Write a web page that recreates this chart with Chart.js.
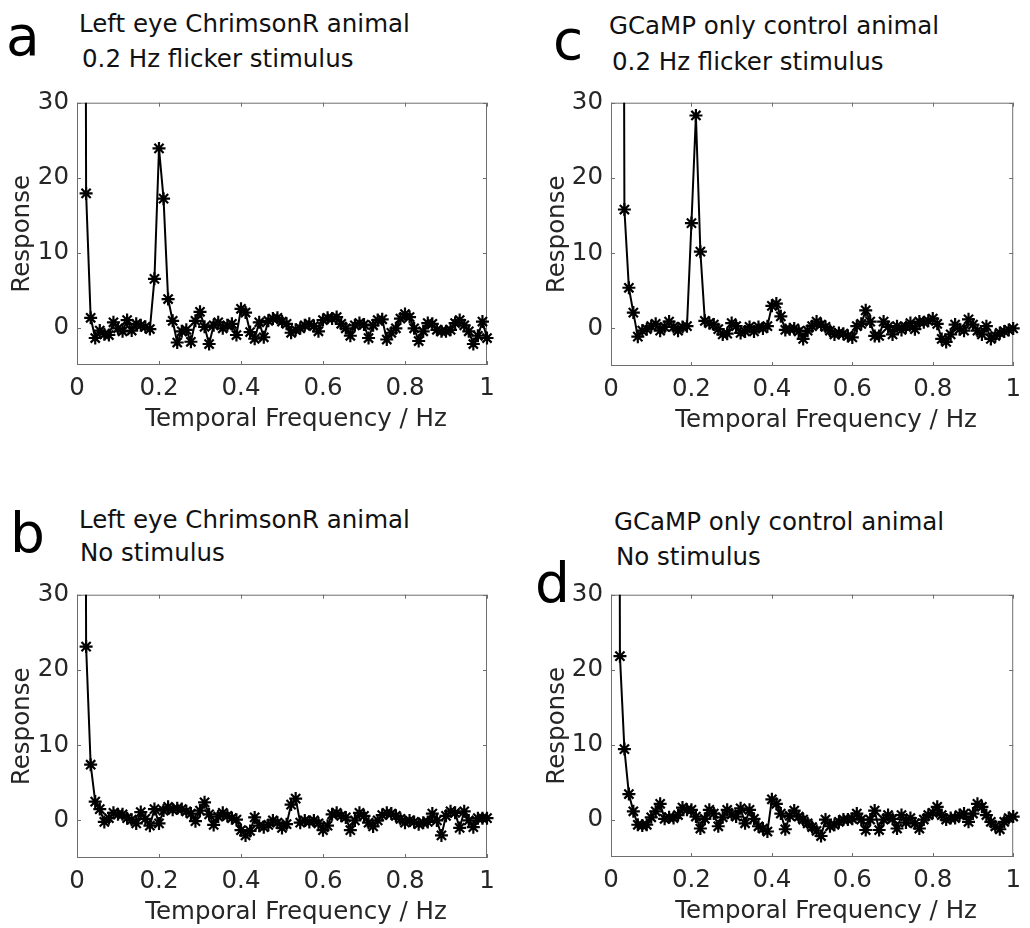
<!DOCTYPE html>
<html>
<head>
<meta charset="utf-8">
<script src="https://cdn.jsdelivr.net/npm/chart.js@4.4.1/dist/chart.umd.min.js"></script>
<style>
  html, body { margin: 0; padding: 0; background: #fff; width: 1030px; height: 928px; overflow: hidden; position: relative; font-family: "DejaVu Sans", sans-serif; }
  canvas { position: absolute; }
  .ttl { position: absolute; white-space: nowrap; color: #111; font-size: 24.5px; line-height: 1; }
  .let { position: absolute; color: #000; font-size: 55px; line-height: 1; }
</style>
</head>
<body>
<div class="let" style="left:6px;top:9px">a</div>
<div class="ttl" style="left:79px;top:12px">Left eye ChrimsonR animal</div>
<div class="ttl" style="left:82px;top:47px">0.2 Hz flicker stimulus</div>

<div class="let" style="left:553px;top:13px">c</div>
<div class="ttl" style="left:609px;top:14px">GCaMP only control animal</div>
<div class="ttl" style="left:612px;top:50px">0.2 Hz flicker stimulus</div>

<div class="let" style="left:10px;top:506px">b</div>
<div class="ttl" style="left:79px;top:508px">Left eye ChrimsonR animal</div>
<div class="ttl" style="left:80px;top:541px">No stimulus</div>

<div class="let" style="left:535px;top:556px">d</div>
<div class="ttl" style="left:614px;top:510px">GCaMP only control animal</div>
<div class="ttl" style="left:616px;top:545px">No stimulus</div>

<script>
  // frequency bins: 1/90 Hz apart, first bin at 1/90 Hz
  const FREQ_STEP = 1 / 90;
  const X_TICKS = [0, 0.2, 0.4, 0.6, 0.8, 1];
  const Y_TICKS = [0, 10, 20, 30];
  const X_LABEL = 'Temporal Frequency / Hz';
  const Y_LABEL = 'Response';

  // a - ChrimsonR, 0.2 Hz flicker
  const respA = [
    300, 17.9, 1.3, -1.4, -0.4, -0.9, -1.0, 0.7, -0.1, -0.5,
    1.0, -0.4, 0.5, 0.3, 0.1, -0.2, 6.5, 23.9, 17.2, 3.8,
    0.9, -2.0, -0.5, -0.3, -1.9, 0.9, 2.1, 0.1, -2.2, 0.3,
    0.7, -0.1, 0.3, 0.5, -1.0, 2.5, 2.0, -0.6, -1.5, 0.7,
    -1.3, 0.9, 1.2, 1.3, 0.8, 0.5, -0.7, -0.3, -0.1, 0.3,
    0.5, 0.2, -0.5, 1.0, 1.3, 1.2, 1.4, 0.5, -0.1, -1.1,
    0.3, 0.6, 0.4, -1.4, 0.3, 1.0, 1.1, -1.6, -0.7, -0.1,
    1.2, 1.8, 1.4, -0.1, -1.8, -0.5, 0.6, 0.5, -0.3, -0.5,
    -0.5, -0.3, 0.6, 1.0, 0.3, -0.5, -2.2, -1.1, 0.8, -1.4
  ];

  // c - GCaMP only, 0.2 Hz flicker
  const respC = [
    400, 250, 15.8, 5.4, 2.1, -1.1, -0.3, -0.1, 0.3, 0.6,
    -0.3, 0.2, 0.9, 0.2, -0.3, 0.2, 0.3, 14.0, 28.3, 10.2,
    1.0, 0.7, 0.5, -0.1, -0.8, -0.7, 0.7, 0.3, -0.6, -0.4,
    0.2, -0.4, 0.2, 0.0, 0.3, 3.0, 3.3, 1.6, -0.2, -0.1,
    0.0, -0.4, -1.4, -0.3, 0.3, 0.9, 0.5, 0.2, -0.3, -0.8,
    -0.6, -0.7, -1.0, -1.2, 0.3, 0.6, 2.4, 0.9, -1.0, -1.0,
    0.9, 0.2, -0.8, 0.3, -0.2, 0.2, 0.7, -0.1, 0.9, 0.8,
    1.0, 1.3, 0.6, -1.4, -1.8, -0.8, 0.5, -0.1, -0.3, 1.2,
    0.5, -0.3, -0.8, 0.3, -1.4, -1.0, -0.6, -0.4, -0.2, 0.0
  ];

  // b - ChrimsonR, no stimulus
  const respB = [
    300, 23.1, 7.4, 2.5, 1.5, -0.2, 0.3, 1.0, 0.8, 0.8,
    0.3, 0.1, -0.4, 1.1, 0.2, -0.7, 1.5, -0.4, 1.3, 1.8,
    1.4, 1.6, 1.5, 1.2, 0.9, -0.1, 1.3, 2.4, 0.8, -0.6,
    0.5, 1.0, 0.6, 0.3, 0.1, -1.3, -2.0, -1.4, 0.4, -0.7,
    -0.9, -0.6, 0.0, -0.3, -1.0, -0.5, 2.1, 2.9, -0.3, 0.0,
    -0.2, 0.0, -0.4, -1.3, -0.7, 0.8, 1.0, 0.6, 0.4, -1.3,
    0.0, 1.0, 0.6, -0.3, -0.8, 0.0, 0.7, 1.0, 0.9, 0.6,
    0.2, -0.3, 0.0, -0.2, -0.5, -0.3, -0.2, 0.9, 0.0, -2.0,
    0.6, 1.2, 1.0, -1.0, 1.2, 0.0, -0.9, 0.3, 0.3, 0.3
  ];

  // d - GCaMP only, no stimulus
  const respD = [
    300, 21.8, 9.4, 3.4, 1.1, -0.7, -0.8, -0.7, 0.3, 1.1,
    2.1, 0.1, 0.3, 0.2, 0.6, 1.6, 1.3, 1.3, 0.4, -1.2,
    0.1, 1.3, 0.8, -0.9, 0.3, 1.3, 0.7, 0.4, 1.5, -0.5,
    1.3, 0.1, -0.9, -1.2, -1.6, 2.7, 2.1, 0.8, -1.3, 0.5,
    1.2, 0.4, 0.0, -0.5, -1.0, -1.5, -2.2, 0.0, -0.9, -0.7,
    -0.3, 0.0, 0.0, 0.1, 0.8, 0.0, -1.4, 0.0, 1.2, -1.4,
    0.0, 0.6, 0.1, -1.2, 0.6, -0.4, 0.2, -0.5, -1.2, 0.0,
    0.6, 0.9, 1.7, 0.6, 0.0, 0.2, 0.2, 0.6, 0.8, -0.3,
    0.8, 2.1, 1.7, 0.6, -0.3, -0.9, -1.3, -0.3, 0.2, 0.4
  ];

  const PANELS = [
    { values: respA, box: { left: 0, top: 80, w: 515, h: 378 }, area: { x1: 77, y1: 93, x2: 487, y2: 365 }, yTitleX: 22 },
    { values: respC, box: { left: 515, top: 80, w: 515, h: 378 }, area: { x1: 611, y1: 94, x2: 1022, y2: 366 }, yTitleX: 42 },
    { values: respB, box: { left: 0, top: 572, w: 515, h: 378 }, area: { x1: 77, y1: 585, x2: 487, y2: 858 }, yTitleX: 22 },
    { values: respD, box: { left: 515, top: 572, w: 515, h: 378 }, area: { x1: 611, y1: 585, x2: 1022, y2: 857 }, yTitleX: 42 }
  ];

  const AXIS_FONT = { family: '"DejaVu Sans", sans-serif', size: 24.5 };
  const AXIS_COLOR = '#262626';

  // box round the axes + inward ticks, like matlab's
  const boxTicks = {
    id: 'boxTicks',
    beforeDatasetsDraw(chart) {
      const { ctx, chartArea: a, scales: { x, y } } = chart;
      ctx.save();
      ctx.strokeStyle = '#6e6e6e';
      ctx.lineWidth = 1;
      ctx.strokeRect(a.left + 0.5, a.top + 0.5, a.right - a.left - 1, a.bottom - a.top - 1);
      ctx.beginPath();
      X_TICKS.forEach(v => {
        const px = Math.round(x.getPixelForValue(v)) + 0.5;
        ctx.moveTo(px, a.bottom); ctx.lineTo(px, a.bottom - 4);
        ctx.moveTo(px, a.top); ctx.lineTo(px, a.top + 4);
      });
      Y_TICKS.forEach(v => {
        const py = Math.round(y.getPixelForValue(v)) + 0.5;
        ctx.moveTo(a.left, py); ctx.lineTo(a.left + 4, py);
        ctx.moveTo(a.right, py); ctx.lineTo(a.right - 4, py);
      });
      ctx.stroke();
      ctx.restore();
    },
    // x label sits a bit right of the axis centre in the original
    afterDraw(chart) {
      const { ctx, chartArea: a } = chart;
      ctx.save();
      ctx.font = `${AXIS_FONT.size}px ${AXIS_FONT.family}`;
      ctx.fillStyle = AXIS_COLOR;
      ctx.textAlign = 'center';
      ctx.textBaseline = 'middle';
      ctx.fillText(X_LABEL, (a.left + a.right) / 2 + 14, a.bottom + 55);
      ctx.restore();
    }
  };

  function makeChart(p) {
    const canvas = document.createElement('canvas');
    canvas.width = p.box.w;
    canvas.height = p.box.h;
    canvas.style.left = p.box.left + 'px';
    canvas.style.top = p.box.top + 'px';
    document.body.appendChild(canvas);

    const yAxisW = p.area.x1 - p.box.left;
    const xAxisH = p.box.top + p.box.h - p.area.y2;

    new Chart(canvas, {
      type: 'line',
      data: {
        datasets: [{
          data: p.values.map((v, i) => ({ x: (i + 1) * FREQ_STEP, y: v })),
          borderColor: '#000',
          borderWidth: 2,
          tension: 0,
          pointStyle: 'star',
          pointRadius: 6.5,
          pointBorderWidth: 2.2,
          pointBorderColor: '#000',
          pointBackgroundColor: '#000',
          clip: { left: 9, top: 0, right: 9, bottom: 9 }
        }]
      },
      options: {
        responsive: false,
        animation: false,
        devicePixelRatio: 1,
        layout: { padding: { left: 0, top: p.area.y1 - p.box.top, right: p.box.left + p.box.w - p.area.x2, bottom: 0 } },
        plugins: { legend: { display: false }, tooltip: { enabled: false } },
        scales: {
          x: {
            type: 'linear', min: 0, max: 1,
            afterBuildTicks: s => { s.ticks = X_TICKS.map(v => ({ value: v })); },
            afterFit: s => { s.height = xAxisH; },
            grid: { display: false, drawTicks: false },
            border: { display: false },
            ticks: { font: AXIS_FONT, color: AXIS_COLOR, padding: 9, maxRotation: 0, callback: v => String(v) }
          },
          y: {
            min: -5, max: 30,
            afterBuildTicks: s => { s.ticks = Y_TICKS.map(v => ({ value: v })); },
            afterFit: s => { s.width = yAxisW; },
            grid: { display: false, drawTicks: false },
            border: { display: false },
            ticks: { font: AXIS_FONT, color: AXIS_COLOR, padding: 8 },
            title: { display: true, text: Y_LABEL, font: AXIS_FONT, color: AXIS_COLOR, padding: { top: p.yTitleX - 14, bottom: 0 } }
          }
        }
      },
      plugins: [boxTicks]
    });
  }

  PANELS.forEach(makeChart);
</script>
</body>
</html>
